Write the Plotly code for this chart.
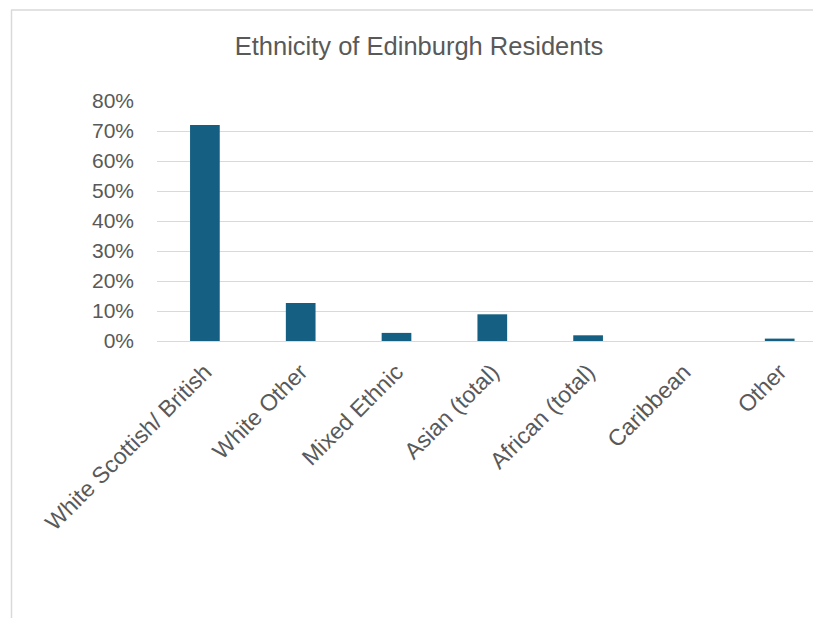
import plotly.graph_objects as go

categories = ["White Scottish/ British", "White Other", "Mixed Ethnic", "Asian (total)",
              "African (total)", "Caribbean", "Other"]
values = [0.72, 0.127, 0.027, 0.089, 0.019, 0.0, 0.008]
y_ticks = [0, 0.1, 0.2, 0.3, 0.4, 0.5, 0.6, 0.7, 0.8]
y_labels = ["0%", "10%", "20%", "30%", "40%", "50%", "60%", "70%", "80%"]

# page body has an 8px margin; figure coordinates are window coordinates minus 8
OFF = 8
W, H = 821 - OFF, 626 - 2 * OFF
left, right, top, bottom = 157 - OFF, 821 - OFF, 100.7 - OFF, 341 - OFF
pw, ph = right - left, bottom - top
cat_px = 95.8

def px(x):
    return (x - OFF - left) / pw

def py(y):
    return (bottom - (y - OFF)) / ph

font = "Liberation Sans, Arial, sans-serif"
grey = "#595959"

fig = go.Figure(go.Bar(
    x=list(range(len(categories))), y=values, width=0.31,
    marker=dict(color="#156082", line=dict(width=0)),
))

fig.update_layout(
    width=W, height=H,
    margin=dict(l=left, r=W - right, t=top, b=H - bottom, pad=0),
    paper_bgcolor="white", plot_bgcolor="white",
    showlegend=False,
    title=dict(text="Ethnicity of Edinburgh Residents", x=(419 - OFF) / W, xanchor="center",
               xref="container", y=1 - (46 - OFF) / H, yanchor="middle", yref="container",
               font=dict(family=font, size=25.5, color=grey)),
    font=dict(family=font, color=grey),
    xaxis=dict(tickmode="array", tickvals=list(range(len(categories))), ticktext=categories,
               range=[-0.5, -0.5 + pw / cat_px], tickangle=-45, showgrid=False,
               showline=False, zeroline=False, ticks="", ticklabelstandoff=12,
               tickfont=dict(family=font, size=23, color=grey)),
    yaxis=dict(range=[0, 0.8], tickmode="array", tickvals=y_ticks, ticktext=y_labels,
               showgrid=True, gridcolor="#d9d9d9", gridwidth=1, zeroline=True,
               zerolinecolor="#d9d9d9", zerolinewidth=1, showline=False, ticks="",
               ticklabelstandoff=22,
               tickfont=dict(family=font, size=21, color=grey)),
    shapes=[
        dict(type="line", xref="paper", yref="paper", x0=px(11), x1=px(840), y0=py(9.5), y1=py(9.5),
             line=dict(color="#d9d9d9", width=1.5)),
        dict(type="line", xref="paper", yref="paper", x0=px(11.5), x1=px(11.5), y0=py(9.5), y1=py(640),
             line=dict(color="#d9d9d9", width=1.5)),
    ],
)

fig.write_html("out.html")
